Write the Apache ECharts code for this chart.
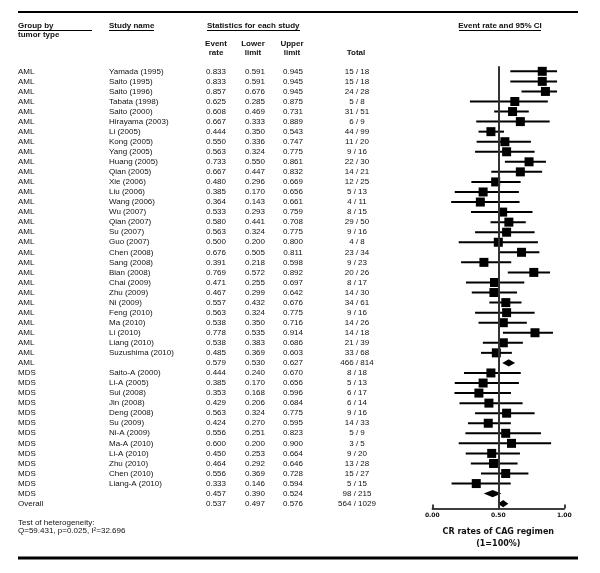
<!DOCTYPE html>
<html>
<head>
<meta charset="utf-8">
<script src="https://cdn.jsdelivr.net/npm/echarts@6/dist/echarts.min.js"></script>
<style>
  html, body { margin: 0; padding: 0; background: #fff; }
  #chart { width: 600px; height: 573px; }
</style>
</head>
<body>
<div id="chart"></div>
<script>
// rows, top to bottom
var groups = [
  'AML', 'AML', 'AML', 'AML', 'AML', 'AML', 'AML', 'AML', 'AML', 'AML',
  'AML', 'AML', 'AML', 'AML', 'AML', 'AML', 'AML', 'AML', 'AML', 'AML',
  'AML', 'AML', 'AML', 'AML', 'AML', 'AML', 'AML', 'AML', 'AML', 'AML',
  'MDS', 'MDS', 'MDS', 'MDS', 'MDS', 'MDS', 'MDS', 'MDS', 'MDS', 'MDS',
  'MDS', 'MDS', 'MDS', 'Overall'
]
var studies = [
  'Yamada (1995)', 'Saito (1995)', 'Saito (1996)', 'Tabata (1998)', 'Saito (2000)',
  'Hirayama (2003)', 'Li (2005)', 'Kong (2005)', 'Yang (2005)', 'Huang (2005)',
  'Qian (2005)', 'Xie (2006)', 'Liu (2006)', 'Wang (2006)', 'Wu (2007)',
  'Qian (2007)', 'Su (2007)', 'Guo (2007)', 'Chen (2008)', 'Sang (2008)',
  'Bian (2008)', 'Chai (2009)', 'Zhu (2009)', 'Ni (2009)', 'Feng (2010)',
  'Ma (2010)', 'Li (2010)', 'Liang (2010)', 'Suzushima (2010)', '',
  'Saito-A (2000)', 'Li-A (2005)', 'Sui (2008)', 'Jin (2008)', 'Deng (2008)',
  'Su (2009)', 'Ni-A (2009)', 'Ma-A (2010)', 'Li-A (2010)', 'Zhu (2010)',
  'Chen (2010)', 'Liang-A (2010)', '', ''
]
var eventRate = [
  0.833, 0.833, 0.857, 0.625, 0.608, 0.667, 0.444, 0.550, 0.563, 0.733,
  0.667, 0.480, 0.385, 0.364, 0.533, 0.580, 0.563, 0.500, 0.676, 0.391,
  0.769, 0.471, 0.467, 0.557, 0.563, 0.538, 0.778, 0.538, 0.485, 0.579,
  0.444, 0.385, 0.353, 0.429, 0.563, 0.424, 0.556, 0.600, 0.450, 0.464,
  0.556, 0.333, 0.457, 0.537
]
var lowerLimit = [
  0.591, 0.591, 0.676, 0.285, 0.469, 0.333, 0.350, 0.336, 0.324, 0.550,
  0.447, 0.296, 0.170, 0.143, 0.293, 0.441, 0.324, 0.200, 0.505, 0.218,
  0.572, 0.255, 0.299, 0.432, 0.324, 0.350, 0.535, 0.383, 0.369, 0.530,
  0.240, 0.170, 0.168, 0.206, 0.324, 0.270, 0.251, 0.200, 0.253, 0.292,
  0.369, 0.146, 0.390, 0.497
]
var upperLimit = [
  0.945, 0.945, 0.945, 0.875, 0.731, 0.889, 0.543, 0.747, 0.775, 0.861,
  0.832, 0.669, 0.656, 0.661, 0.759, 0.708, 0.775, 0.800, 0.811, 0.598,
  0.892, 0.697, 0.642, 0.676, 0.775, 0.716, 0.914, 0.686, 0.603, 0.627,
  0.670, 0.656, 0.596, 0.684, 0.775, 0.595, 0.823, 0.900, 0.664, 0.646,
  0.728, 0.594, 0.524, 0.576
]
var totals = [
  '15 / 18', '15 / 18', '24 / 28', '5 / 8', '31 / 51', '6 / 9', '44 / 99', '11 / 20', '9 / 16', '22 / 30',
  '14 / 21', '12 / 25', '5 / 13', '4 / 11', '8 / 15', '29 / 50', '9 / 16', '4 / 8', '23 / 34', '9 / 23',
  '20 / 26', '8 / 17', '14 / 30', '34 / 61', '9 / 16', '14 / 26', '14 / 18', '21 / 39', '33 / 68', '466 / 814',
  '8 / 18', '5 / 13', '6 / 17', '6 / 14', '9 / 16', '14 / 33', '5 / 9', '3 / 5', '9 / 20', '13 / 28',
  '15 / 27', '5 / 15', '98 / 215', '564 / 1029'
]
// s = study, d = pooled (diamond)
var rowKind = [
  's', 's', 's', 's', 's', 's', 's', 's', 's', 's',
  's', 's', 's', 's', 's', 's', 's', 's', 's', 's',
  's', 's', 's', 's', 's', 's', 's', 's', 's', 'd',
  's', 's', 's', 's', 's', 's', 's', 's', 's', 's',
  's', 's', 'd', 'd'
]
var xTickLabels = ['0.00', '0.50', '1.00']

var FONT = '8px "Liberation Sans", Arial, sans-serif'
var BOLD = 'bold 8px "Liberation Sans", Arial, sans-serif'
var INK = '#111'

var rows = []
for (var i = 0; i < studies.length; i++) {
  rows.push([i, eventRate[i], lowerLimit[i], upperLimit[i]])
}

var myChart = echarts.init(document.getElementById('chart'), null, { renderer: 'canvas' })

function txt(s, x, y, align, font) {
  return {
    type: 'text',
    style: { text: s, x: x, y: y, align: align || 'left', verticalAlign: 'middle', font: font || FONT, fill: INK }
  }
}
function hline(x1, x2, y, w) {
  return { type: 'line', shape: { x1: x1, y1: y, x2: x2, y2: y }, style: { stroke: '#000', lineWidth: w } }
}

myChart.setOption({
  animation: false,
  grid: [
    { left: 0, width: 600, top: 66.3, height: 442.2 },
    { left: 432.3, width: 132, top: 66.3, height: 442.2 }
  ],
  xAxis: [
    { gridIndex: 0, type: 'value', min: 0, max: 600, show: false },
    {
      gridIndex: 1,
      type: 'value',
      position: 'bottom',
      min: 0,
      max: 1,
      interval: 0.5,
      splitLine: { show: false },
      axisLine: { show: true, onZero: false, lineStyle: { color: '#000', width: 1.5 } },
      axisTick: { show: true, inside: true, length: 4, lineStyle: { color: '#000', width: 1.5 } },
      axisLabel: {
        margin: 4,
        color: INK,
        fontFamily: 'DejaVu Sans',
        fontWeight: 'bold',
        fontSize: 6,
        formatter: function(v, idx) { return xTickLabels[idx] }
      },
      name: 'CR rates of CAG regimen\n(1=100%)',
      nameLocation: 'middle',
      nameGap: 17,
      nameTextStyle: { color: INK, fontFamily: 'DejaVu Sans', fontWeight: 'bold', fontSize: 8, lineHeight: 12 }
    }
  ],
  yAxis: [
    { gridIndex: 0, type: 'value', inverse: true, min: -0.5, max: 43.48, show: false },
    { gridIndex: 1, type: 'value', inverse: true, min: -0.5, max: 43.48, show: false }
  ],
  series: [
    {
      // table text
      type: 'custom',
      xAxisIndex: 0,
      yAxisIndex: 0,
      clip: false,
      data: rows,
      encode: { y: 0 },
      renderItem: function(params, api) {
        var i = api.value(0)
        var y = api.coord([0, i])[1]
        return {
          type: 'group',
          children: [
            txt(groups[i], 18, y),
            txt(studies[i], 109, y),
            txt(eventRate[i].toFixed(3), 216, y, 'center'),
            txt(lowerLimit[i].toFixed(3), 255, y, 'center'),
            txt(upperLimit[i].toFixed(3), 293, y, 'center'),
            txt(totals[i], 357, y, 'center')
          ]
        }
      }
    },
    {
      // forest plot
      type: 'custom',
      xAxisIndex: 1,
      yAxisIndex: 1,
      clip: false,
      data: rows,
      encode: { x: [1, 2, 3], y: 0 },
      renderItem: function(params, api) {
        var i = api.value(0)
        var p = api.coord([api.value(1), i])
        var lo = api.coord([api.value(2), i])
        var hi = api.coord([api.value(3), i])
        if (rowKind[i] === 'd') {
          return {
            type: 'polygon',
            shape: { points: [[lo[0], p[1]], [p[0], p[1] - 3.6], [hi[0], p[1]], [p[0], p[1] + 3.6]] },
            style: { fill: '#000' }
          }
        }
        var s = 9
        return {
          type: 'group',
          children: [
            { type: 'line', shape: { x1: lo[0], y1: p[1], x2: hi[0], y2: p[1] }, style: { stroke: '#000', lineWidth: 2 } },
            { type: 'rect', shape: { x: p[0] - s / 2, y: p[1] - s / 2, width: s, height: s }, style: { fill: '#000' } }
          ]
        }
      },
      markLine: {
        silent: true,
        symbol: 'none',
        label: { show: false },
        lineStyle: { color: '#333', width: 2, type: 'solid' },
        data: [{ xAxis: 0.5 }]
      }
    }
  ],
  graphic: [
    hline(18, 578, 12, 2),
    hline(18, 578, 558, 3),
    txt('Group by', 18, 26, 'left', BOLD),
    txt('tumor type', 18, 35, 'left', BOLD),
    hline(18, 92, 30.5, 1),
    txt('Study name', 109, 26, 'left', BOLD),
    hline(109, 154, 30.5, 1),
    txt('Statistics for each study', 207, 26, 'left', BOLD),
    hline(207, 300, 30.5, 1),
    txt('Event', 216, 44, 'center', BOLD),
    txt('rate', 216, 52.5, 'center', BOLD),
    txt('Lower', 253, 44, 'center', BOLD),
    txt('limit', 253, 52.5, 'center', BOLD),
    txt('Upper', 292, 44, 'center', BOLD),
    txt('limit', 292, 52.5, 'center', BOLD),
    txt('Total', 356, 52.5, 'center', BOLD),
    txt('Event rate and 95% CI', 500, 26, 'center', BOLD),
    hline(459, 541, 30.5, 1),
    txt('Test of heterogeneity:', 18, 522.5, 'left', FONT),
    txt('Q=59.431, p=0.025, I\u00b2=32.696', 18, 531, 'left', FONT)
  ]
})
</script>
</body>
</html>
